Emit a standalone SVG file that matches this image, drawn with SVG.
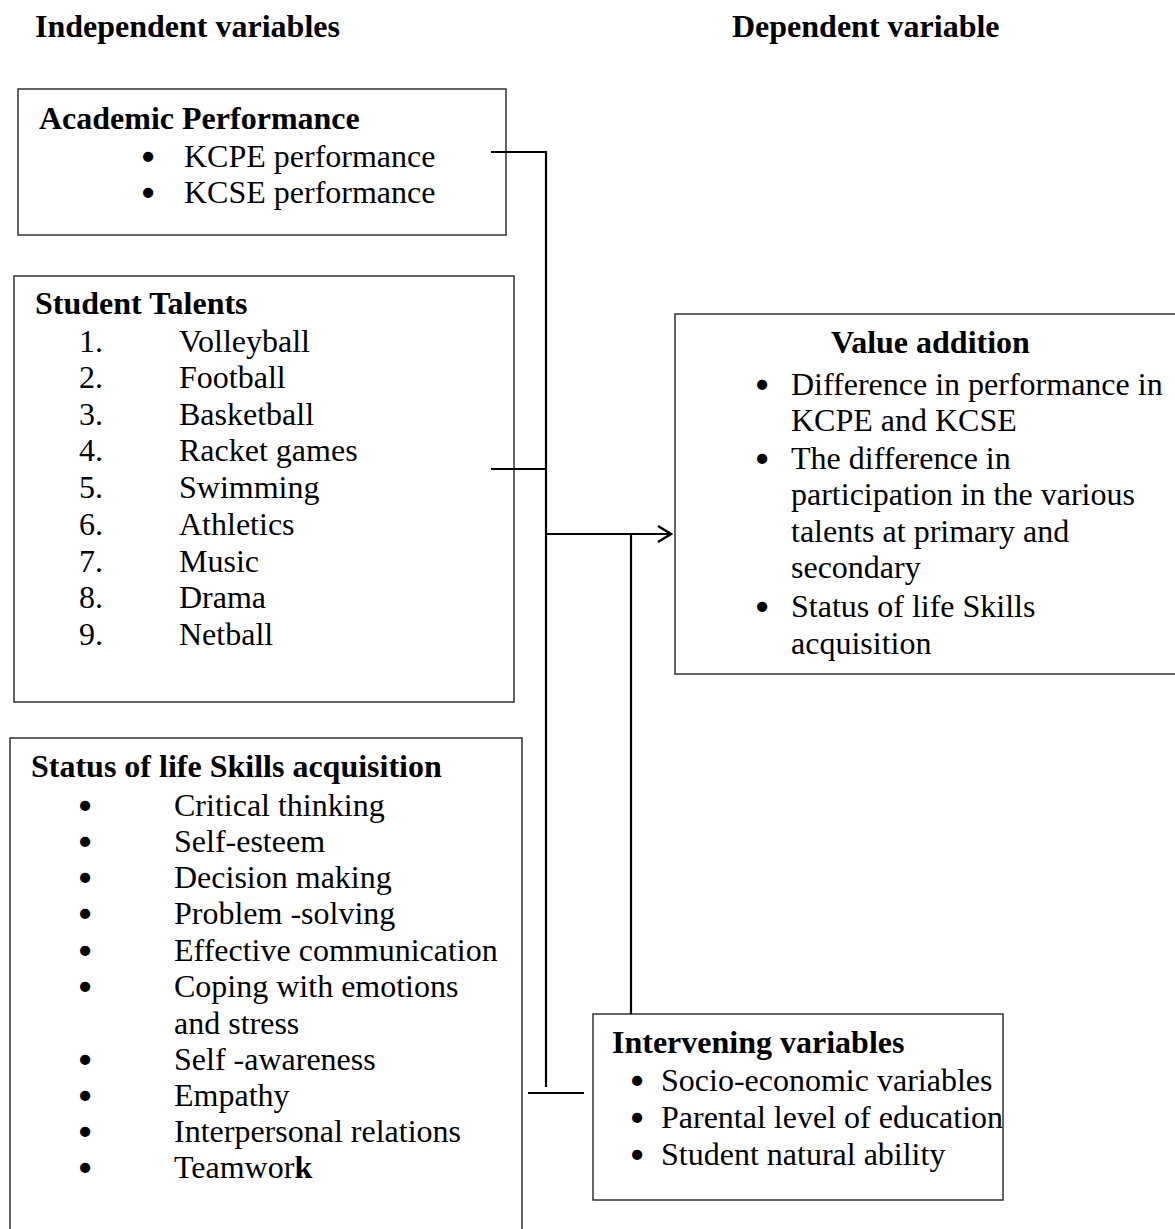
<svg xmlns="http://www.w3.org/2000/svg" width="1175" height="1229" viewBox="0 0 1175 1229">
<defs>
<style>
text{font-family:"Liberation Serif","Times New Roman",serif;font-size:32px;fill:#000}
.b{font-weight:bold}
.d{text-anchor:middle;stroke:#000;stroke-width:2.6;stroke-linejoin:round}
.box{fill:#fff;stroke:#333;stroke-width:1.5}
.ln{stroke:#000;stroke-width:2.2;fill:none}
</style>
<marker id="arr" markerWidth="16" markerHeight="20" refX="14" refY="10" orient="auto" markerUnits="userSpaceOnUse">
<path d="M1,2 L14,10 L1,18" fill="none" stroke="#000" stroke-width="2.4"/>
</marker>
</defs>
<rect width="1175" height="1229" fill="#fff"/>
<g id="headers">
<text class="b" x="35" y="37">Independent variables</text>
<text class="b" x="732" y="37">Dependent variable</text>
</g>
<g id="academic">
<rect class="box" x="18" y="89" width="488" height="146"/>
<text class="b" x="39" y="129">Academic Performance</text>
<text class="d" x="148" y="168">•</text><text x="184" y="167">KCPE performance</text>
<text class="d" x="148" y="204">•</text><text x="184" y="203">KCSE performance</text>
</g>
<g id="talents">
<rect class="box" x="14" y="276" width="500" height="426"/>
<text class="b" x="35" y="314">Student Talents</text>
<text x="79" y="352">1.</text><text x="179" y="352">Volleyball</text>
<text x="79" y="388">2.</text><text x="179" y="388">Football</text>
<text x="79" y="425">3.</text><text x="179" y="425">Basketball</text>
<text x="79" y="461">4.</text><text x="179" y="461">Racket games</text>
<text x="79" y="498">5.</text><text x="179" y="498">Swimming</text>
<text x="79" y="535">6.</text><text x="179" y="535">Athletics</text>
<text x="79" y="572">7.</text><text x="179" y="572">Music</text>
<text x="79" y="608">8.</text><text x="179" y="608">Drama</text>
<text x="79" y="645">9.</text><text x="179" y="645">Netball</text>
</g>
<g id="value">
<rect class="box" x="675" y="314" width="520" height="360"/>
<text class="b" x="831" y="353">Value addition</text>
<text class="d" x="762" y="396">•</text><text x="791" y="395">Difference in performance in</text>
<text x="791" y="431">KCPE and KCSE</text>
<text class="d" x="762" y="470">•</text><text x="791" y="469">The difference in</text>
<text x="791" y="505">participation in the various</text>
<text x="791" y="542">talents at primary and</text>
<text x="791" y="578">secondary</text>
<text class="d" x="762" y="618">•</text><text x="791" y="617">Status of life Skills</text>
<text x="791" y="654">acquisition</text>
</g>
<g id="lifeskills">
<rect class="box" x="10" y="738" width="512" height="510"/>
<text class="b" x="31" y="777">Status of life Skills acquisition</text>
<text class="d" x="85" y="817">•</text><text x="174" y="816">Critical thinking</text>
<text class="d" x="85" y="853">•</text><text x="174" y="852">Self-esteem</text>
<text class="d" x="85" y="889">•</text><text x="174" y="888">Decision making</text>
<text class="d" x="85" y="925">•</text><text x="174" y="924">Problem -solving</text>
<text class="d" x="85" y="962">•</text><text x="174" y="961">Effective communication</text>
<text class="d" x="85" y="998">•</text><text x="174" y="997">Coping with emotions</text>
<text x="174" y="1034">and stress</text>
<text class="d" x="85" y="1071">•</text><text x="174" y="1070">Self -awareness</text>
<text class="d" x="85" y="1107">•</text><text x="174" y="1106">Empathy</text>
<text class="d" x="85" y="1143">•</text><text x="174" y="1142">Interpersonal relations</text>
<text class="d" x="85" y="1179">•</text><text x="174" y="1178">Teamwor<tspan class="b">k</tspan></text>
</g>
<g id="intervening">
<rect class="box" x="593" y="1014" width="410" height="186"/>
<text class="b" x="612" y="1053">Intervening variables</text>
<text class="d" x="637" y="1092">•</text><text x="661" y="1091">Socio-economic variables</text>
<text class="d" x="637" y="1129">•</text><text x="661" y="1128">Parental level of education</text>
<text class="d" x="637" y="1166">•</text><text x="661" y="1165">Student natural ability</text>
</g>
<g id="connectors">
<polyline class="ln" points="491,152 546,152 546,1087"/>
<line class="ln" x1="491" y1="469" x2="546" y2="469"/>
<line class="ln" x1="546" y1="534" x2="671" y2="534" marker-end="url(#arr)"/>
<line class="ln" x1="631" y1="534" x2="631" y2="1014"/>
<line class="ln" x1="528" y1="1093" x2="584" y2="1093"/>
</g>
</svg>
